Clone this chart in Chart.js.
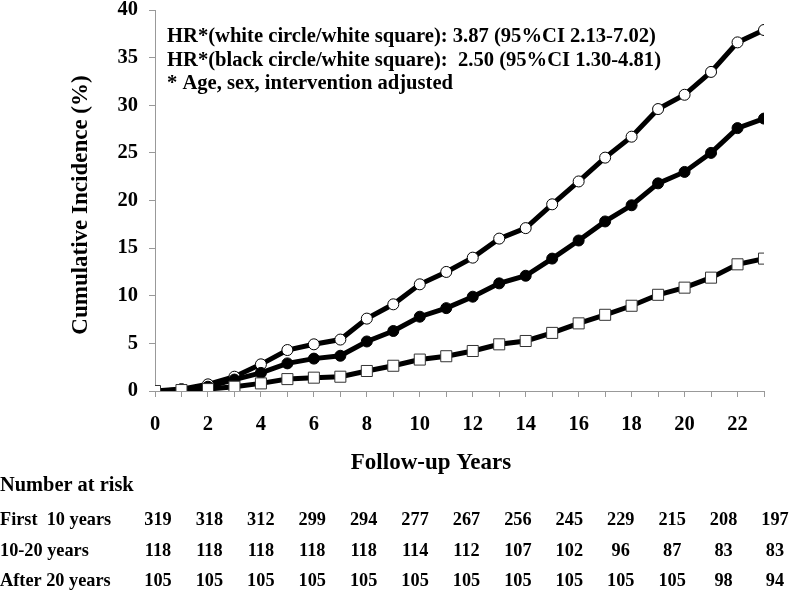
<!DOCTYPE html>
<html>
<head>
<meta charset="utf-8">
<script src="https://cdn.jsdelivr.net/npm/chart.js@4.4.1/dist/chart.umd.min.js"></script>
<style>
  body { margin: 0; background: #fff; }
  #chart { display: block; }
</style>
</head>
<body>
<canvas id="chart" width="792" height="594"></canvas>
<script>
// follow-up years on the x axis
const years = [0, 1, 2, 3, 4, 5, 6, 7, 8, 9, 10, 11, 12, 13, 14, 15, 16, 17, 18, 19, 20, 21, 22, 23];

// cumulative incidence (%)
const whiteCircle = [0, 0.2, 0.7, 1.5, 2.8, 4.3, 4.9, 5.4, 7.6, 9.1, 11.2, 12.5, 14.0, 16.0, 17.1, 19.6, 22.0, 24.5, 26.7, 29.6, 31.1, 33.5, 36.6, 37.9];
const blackCircle = [0, 0.1, 0.45, 1.2, 1.9, 2.9, 3.4, 3.7, 5.2, 6.3, 7.8, 8.7, 9.9, 11.3, 12.1, 13.9, 15.8, 17.8, 19.5, 21.8, 23.0, 25.0, 27.6, 28.6];
const whiteSquare = [0, 0.1, 0.2, 0.45, 0.8, 1.25, 1.4, 1.5, 2.1, 2.65, 3.3, 3.65, 4.2, 4.9, 5.25, 6.1, 7.1, 8.0, 8.95, 10.1, 10.85, 11.9, 13.3, 13.9];

const hrNotes = [
  "HR*(white circle/white square): 3.87 (95%CI 2.13-7.02)",
  "HR*(black circle/white square):  2.50 (95%CI 1.30-4.81)",
  "* Age, sex, intervention adjusted"
];

// number at risk table
const riskLabels = ["First  10 years", "10-20 years", "After 20 years"];
const riskFirst10 = [319, 318, 312, 299, 294, 277, 267, 256, 245, 229, 215, 208, 197];
const risk10to20 = [118, 118, 118, 118, 118, 114, 112, 107, 102, 96, 87, 83, 83];
const riskAfter20 = [105, 105, 105, 105, 105, 105, 105, 105, 105, 105, 105, 98, 94];

const FONT = "'Liberation Serif', 'Times New Roman', serif";
const toPoints = arr => arr.map((v, i) => ({ x: years[i], y: v }));

const textPlugin = {
  id: 'extraText',
  afterDraw(chart) {
    const ctx = chart.ctx;
    const area = chart.chartArea;
    ctx.save();
    ctx.fillStyle = '#000';
    ctx.textBaseline = 'middle';

    // hazard ratio notes
    ctx.font = 'bold 20.6px ' + FONT;
    ctx.textAlign = 'left';
    hrNotes.forEach((t, i) => ctx.fillText(t, area.left + 12, 37 + i * 23.5));

    // axis titles
    ctx.font = 'bold 23px ' + FONT;
    ctx.textAlign = 'center';
    ctx.fillText('Follow-up Years', 431, 463);
    ctx.save();
    ctx.translate(81, 205);
    ctx.rotate(-Math.PI / 2);
    ctx.fillText('Cumulative Incidence (%)', 0, 0);
    ctx.restore();

    // number at risk
    ctx.textAlign = 'left';
    ctx.font = 'bold 20.4px ' + FONT;
    ctx.fillText('Number at risk', 0, 486);
    ctx.font = 'bold 18.3px ' + FONT;
    const rows = [riskFirst10, risk10to20, riskAfter20];
    const x0 = area.left + 3;
    const x1 = chart.width - 17;
    rows.forEach((row, r) => {
      const y = 520.5 + r * 30.5;
      ctx.textAlign = 'left';
      ctx.fillText(riskLabels[r], 0, y);
      ctx.textAlign = 'center';
      row.forEach((v, k) => {
        ctx.fillText(String(v), x0 + k * (x1 - x0) / (row.length - 1), y);
      });
    });
    ctx.restore();
  }
};

new Chart(document.getElementById('chart'), {
  type: 'line',
  data: {
    datasets: [
      {
        data: toPoints(whiteSquare),
        borderColor: '#000',
        borderWidth: 5,
        pointStyle: 'rect',
        pointRadius: 7.8,
        pointBackgroundColor: '#fff',
        pointBorderColor: '#333',
        pointBorderWidth: 1,
        order: 0
      },
      {
        data: toPoints(blackCircle),
        borderColor: '#000',
        borderWidth: 5,
        pointStyle: 'circle',
        pointRadius: 5.5,
        pointBackgroundColor: '#000',
        pointBorderColor: '#000',
        pointBorderWidth: 1,
        order: 1
      },
      {
        data: toPoints(whiteCircle),
        borderColor: '#000',
        borderWidth: 5,
        pointStyle: 'circle',
        pointRadius: 5.5,
        pointBackgroundColor: '#fff',
        pointBorderColor: '#000',
        pointBorderWidth: 1,
        order: 2
      }
    ]
  },
  options: {
    responsive: false,
    animation: false,
    layout: { padding: { top: 0, right: 28, left: 0, bottom: 0 } },
    plugins: { legend: { display: false }, tooltip: { enabled: false } },
    elements: { line: { tension: 0 } },
    scales: {
      x: {
        type: 'linear',
        min: 0,
        max: 23,
        afterFit: s => { s.height = 203; },
        ticks: {
          stepSize: 1,
          autoSkip: false,
          maxRotation: 0,
          padding: 15,
          color: '#000',
          font: { family: FONT, weight: 'bold', size: 20.5 },
          callback: v => (v % 2 === 0 ? v : '')
        },
        grid: { drawOnChartArea: false, tickLength: 6, color: '#999' },
        border: { color: '#999', width: 1 }
      },
      y: {
        min: 0,
        max: 40,
        afterFit: s => { s.width = 155; s.paddingTop = 10; },
        ticks: {
          stepSize: 5,
          padding: 11,
          color: '#000',
          font: { family: FONT, weight: 'bold', size: 20.5 }
        },
        grid: { drawOnChartArea: false, tickLength: 6, color: '#999' },
        border: { color: '#999', width: 1 }
      }
    }
  },
  plugins: [textPlugin]
});
</script>
</body>
</html>
